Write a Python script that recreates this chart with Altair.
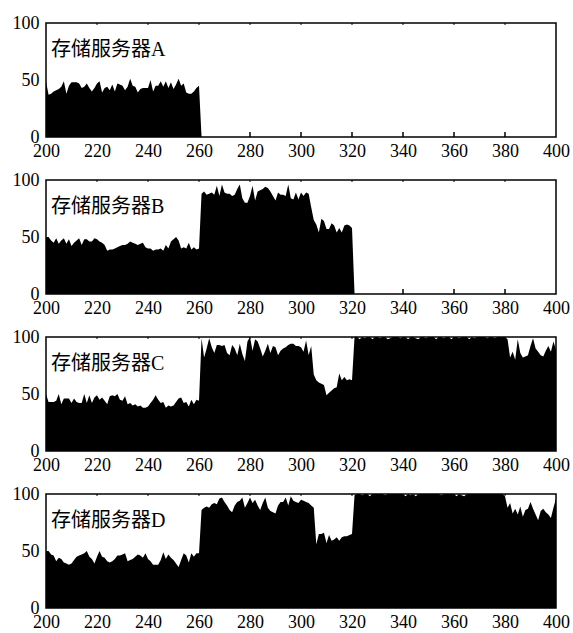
import altair as alt
import pandas as pd

# ---- data (sampled at x = 200, 201, 202, ...) ----
names = ["存储服务器A", "存储服务器B", "存储服务器C", "存储服务器D"]

a_vals = [
    49, 37, 38, 40, 41, 42, 44, 49, 38, 45,
    48, 48, 48, 47, 43, 44, 47, 43, 40, 43,
    47, 49, 39, 43, 44, 41, 46, 40, 47, 46,
    45, 41, 44, 51, 45, 44, 39, 42, 43, 43,
    43, 50, 40, 45, 45, 49, 44, 49, 43, 48,
    42, 46, 51, 45, 47, 39, 38, 38, 40, 43,
    45, 0,
]

b_vals = [
    50, 50, 47, 45, 49, 44, 47, 49, 44, 48,
    42, 45, 47, 49, 43, 48, 48, 46, 46, 49,
    48, 46, 45, 43, 38, 39, 39, 40, 41, 42,
    43, 43, 44, 46, 45, 44, 43, 44, 45, 41,
    40, 40, 38, 39, 39, 40, 38, 43, 40, 46,
    48, 50, 47, 40, 41, 40, 45, 39, 41, 39,
    40,
    88, 90, 87, 88, 89, 87, 95, 86, 96, 89,
    88, 88, 86, 87, 92, 96, 84, 80, 80, 86,
    95, 82, 90, 91, 92, 94, 93, 90, 86, 82,
    89, 87, 87, 86, 96, 84, 83, 89, 83, 89,
    86, 89, 88, 76, 65, 61, 54, 66, 64, 57,
    57, 62, 60, 54, 58, 54, 60, 61, 60, 58,
    0,
]

c_vals = [
    50, 43, 43, 43, 44, 50, 41, 46, 46, 46,
    42, 46, 43, 42, 42, 50, 42, 49, 42, 47,
    49, 45, 47, 44, 41, 48, 49, 48, 50, 45,
    44, 48, 41, 42, 40, 41, 39, 40, 38, 38,
    39, 42, 45, 49, 45, 42, 43, 38, 40, 39,
    40, 43, 46, 47, 42, 43, 39, 45, 41, 45,
    44,
    99, 82, 90, 99, 91, 86, 93, 93, 92, 93,
    86, 84, 93, 90, 84, 94, 85, 79, 96, 100,
    88, 98, 96, 90, 83, 88, 94, 86, 92, 91,
    84, 88, 90, 91, 93, 94, 94, 92, 92, 91,
    87, 97, 84, 92, 67, 62, 60, 59, 58, 49,
    51, 53, 55, 56, 68, 62, 65, 62, 63, 62,
    100, 100, 98, 100, 99, 100, 100, 98, 100, 100,
    99, 100, 100, 98, 99, 100, 100, 100, 99, 100,
    100, 98, 100, 100, 99, 98, 100, 100, 99, 100,
    100, 100, 98, 100, 100, 99, 100, 100, 98, 100,
    100, 99, 100, 100, 100, 98, 100, 99, 100, 100,
    100, 100, 99, 100, 100, 99, 100, 100, 100, 100,
    98, 82, 87, 80, 98, 86, 82, 83, 84, 92,
    99, 90, 87, 84, 83, 88, 92, 87, 96, 89,
]

d_vals = [
    50, 50, 47, 46, 41, 44, 43, 40, 39, 38,
    39, 42, 45, 46, 47, 48, 50, 45, 43, 39,
    45, 50, 45, 44, 41, 40, 41, 43, 46, 46,
    47, 48, 41, 42, 43, 45, 47, 46, 44, 48,
    43, 41, 38, 38, 38, 42, 49, 43, 47, 44,
    42, 39, 36, 42, 48, 46, 40, 48, 45, 48,
    48,
    86, 88, 89, 88, 91, 92, 91, 96, 97, 93,
    90, 86, 84, 90, 93, 94, 97, 88, 92, 97,
    92, 95, 90, 86, 92, 97, 88, 85, 84, 83,
    90, 93, 93, 97, 90, 98, 94, 93, 92, 95,
    94, 93, 92, 90, 88, 56, 65, 65, 66, 57,
    64, 59, 60, 62, 59, 62, 63, 63, 64, 65,
    99, 100, 100, 99, 100, 100, 98, 100, 100, 100,
    100, 100, 99, 100, 100, 100, 100, 100, 100, 100,
    98, 100, 99, 100, 98, 100, 100, 100, 100, 100,
    100, 100, 100, 100, 99, 100, 100, 100, 100, 100,
    98, 100, 99, 98, 100, 100, 100, 100, 100, 100,
    100, 100, 100, 100, 100, 100, 100, 100, 100, 98,
    88, 92, 83, 87, 82, 89, 80, 86, 87, 93,
    87, 82, 77, 85, 87, 84, 82, 79, 88, 96,
]

series = [a_vals, b_vals, c_vals, d_vals]
x_ticks = [200, 220, 240, 260, 280, 300, 320, 340, 360, 380, 400]
inner_ticks = [220, 240, 260, 280, 300, 320, 340, 360, 380]
y_ticks = [0, 50, 100]

W, H = 510, 114
SERIF = "Liberation Serif"


def panel(name, vals):
    df = pd.DataFrame({"t": [200 + i for i in range(len(vals))], "v": vals})
    xs = alt.Scale(domain=[200, 400], nice=False, zero=False)
    area = alt.Chart(df).mark_area(color="black", clip=True).encode(
        x=alt.X("t:Q", scale=xs, title=None,
                axis=alt.Axis(values=x_ticks, labelFlush=False, labelOverlap=False,
                              domain=False, ticks=False, grid=False, labelPadding=5)),
        y=alt.Y("v:Q", scale=alt.Scale(domain=[0, 100]), title=None,
                axis=alt.Axis(values=y_ticks, domain=False, ticks=False, grid=False,
                              labelPadding=7)),
    )
    label = alt.Chart(pd.DataFrame({"name": [name]})).mark_text(
        align="left", baseline="middle", font=SERIF + ", Noto Sans CJK SC",
        fontSize=20, color="black"
    ).encode(text="name:N", x=alt.value(5), y=alt.value(27))
    tdf = pd.DataFrame({"t": inner_ticks})
    ticks_b = alt.Chart(tdf).mark_rule(color="black", strokeWidth=1.5).encode(
        x=alt.X("t:Q", scale=xs), y=alt.value(H), y2=alt.value(H - 5))
    ticks_t = alt.Chart(tdf).mark_rule(color="black", strokeWidth=1).encode(
        x=alt.X("t:Q", scale=xs), y=alt.value(0), y2=alt.value(2))
    return alt.layer(area, ticks_b, ticks_t, label).properties(width=W, height=H)


chart = alt.vconcat(*[panel(n, v) for n, v in zip(names, series)], spacing=9).properties(
    padding={"left": 11, "top": 13, "right": 0, "bottom": 0},
    background="white",
).configure_view(
    stroke="black", strokeWidth=1.5
).configure_axis(
    labelFont=SERIF, labelFontSize=18, labelColor="black"
)

chart.save("out.html", embed_options={"renderer": "svg", "actions": False})
